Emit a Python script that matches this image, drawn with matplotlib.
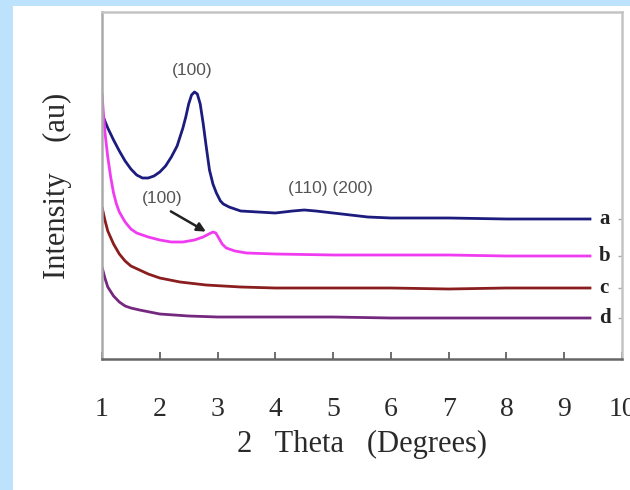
import numpy as np
import matplotlib.pyplot as plt
from matplotlib.patches import Rectangle

# XRD patterns (2 theta in degrees, intensity in a.u.)
x_a = [1.0, 1.05, 1.1, 1.2, 1.3, 1.4, 1.5, 1.6, 1.7, 1.8, 1.9, 2.0, 2.1, 2.2, 2.3,
       2.4, 2.45, 2.5, 2.55, 2.6, 2.65, 2.7, 2.75, 2.8, 2.86, 2.92, 2.98, 3.05, 3.1,
       3.2, 3.4, 3.7, 4.0, 4.3, 4.5, 4.7, 5.0, 5.3, 5.6, 6.0, 7.0, 8.0, 9.47]
y_a = [246, 238, 231, 219, 208, 198, 190, 184, 181, 181, 183, 187, 193, 202, 213,
       231, 242, 255, 264, 267, 265, 255, 236, 214, 189, 175, 166, 158, 155,
       152, 148, 147, 146, 148, 149, 148, 146, 144, 142, 141, 141, 140, 140]

x_b = [1.0, 1.02, 1.04, 1.06, 1.1, 1.15, 1.2, 1.25, 1.3, 1.4, 1.5, 1.6, 1.8, 2.0,
       2.2, 2.4, 2.6, 2.75, 2.85, 2.92, 2.97, 3.02, 3.08, 3.15, 3.3, 3.5, 4.0, 5.0,
       6.0, 7.0, 8.0, 9.47]
y_b = [266, 249, 234, 222, 202, 182, 166, 155, 147, 137, 130, 126, 122, 119,
       117, 117, 119, 122, 125, 127, 126, 121, 115, 111, 108, 106, 105, 104,
       104, 104, 103, 103]

x_c = [1.0, 1.05, 1.1, 1.2, 1.3, 1.4, 1.5, 1.65, 1.8, 2.0, 2.35, 2.8, 3.4, 4.0,
       5.0, 6.0, 7.0, 8.0, 9.47]
y_c = [152, 139, 128, 115, 105, 98, 93, 89, 85, 81, 77, 74, 72, 71,
       71, 71, 70, 71, 71]

x_d = [1.0, 1.05, 1.1, 1.2, 1.3, 1.4, 1.5, 1.65, 2.0, 2.5, 3.0, 4.0, 5.0, 6.0,
       7.0, 8.0, 9.47]
y_d = [92, 81, 72, 63, 57, 53, 51, 49, 45, 43, 42, 42, 42, 41,
       41, 41, 41]

series = [(x_a, y_a, 'a', '#1c1c7e'),
          (x_b, y_b, 'b', '#f03cf0'),
          (x_c, y_c, 'c', '#8a1e1e'),
          (x_d, y_d, 'd', '#74287e')]

xticks = [1, 2, 3, 4, 5, 6, 7, 8, 9, 10]

fig = plt.figure(figsize=(6.3, 4.9), dpi=100, facecolor='#bde2fb')
panel = Rectangle((13 / 630, 0), 1, 1 - 6 / 490, transform=fig.transFigure,
                  facecolor='white', edgecolor='none', zorder=-5)
fig.add_artist(panel)

ax = fig.add_axes([102 / 630, 1 - 359 / 490, 520 / 630, 347 / 490])
ax.set_zorder(1)
ax.set_facecolor('white')

for xs, ys, lab, col in series:
    ax.plot(xs, ys, color=col, lw=2.0, solid_capstyle='butt')
    ax.text(9.6, ys[-1], lab, color='#222222', fontsize=15, family='Liberation Serif',
            fontweight='bold', va='center', ha='left')

note = dict(color='#555555', fontsize=12.5, family='Liberation Sans', ha='center', va='center')
ax.text(2.56, 289, '(100)', **note)
ax.text(4.96, 171, '(110) (200)', **note)
ax.text(2.04, 161, '(100)', **note)
ax.annotate('', xy=(2.84, 126), xytext=(2.15, 149),
            arrowprops=dict(arrowstyle='-|>', color='#222222', lw=1.8, mutation_scale=13))

ax.set_xlim(1, 10)
ax.set_ylim(0, 347)
ax.set_xticks(xticks)
ax.set_xticklabels([str(t) for t in xticks], family='Liberation Serif', fontsize=20,
                   color='#2a2a2a')
ax.tick_params(axis='x', direction='in', length=5, width=1.2, color='#555555', pad=27)

ax.set_yticks([ys[-1] for _, ys, _, _ in series])
ax.tick_params(axis='y', left=False, right=True, labelleft=False, direction='in',
               length=3, width=1, color='#aaaaaa')

ax.spines['bottom'].set_color('#666666')
ax.spines['bottom'].set_linewidth(1.8)
ax.spines['left'].set_color('#aaaaaa')
ax.spines['left'].set_linewidth(1.8)
for s in ('top', 'right'):
    ax.spines[s].set_color('#c4c4c4')
    ax.spines[s].set_linewidth(1.8)

ax.set_xlabel('2   Theta   (Degrees)', family='Liberation Serif', fontsize=22,
              color='#2a2a2a')
ax.xaxis.set_label_coords(0.5, -0.205)
ax.set_ylabel('Intensity    (au)', family='Liberation Serif', fontsize=22,
              color='#2a2a2a')
ax.yaxis.set_label_coords(-0.058, 0.5)

fig.savefig('out.png', dpi=100, facecolor=fig.get_facecolor())
